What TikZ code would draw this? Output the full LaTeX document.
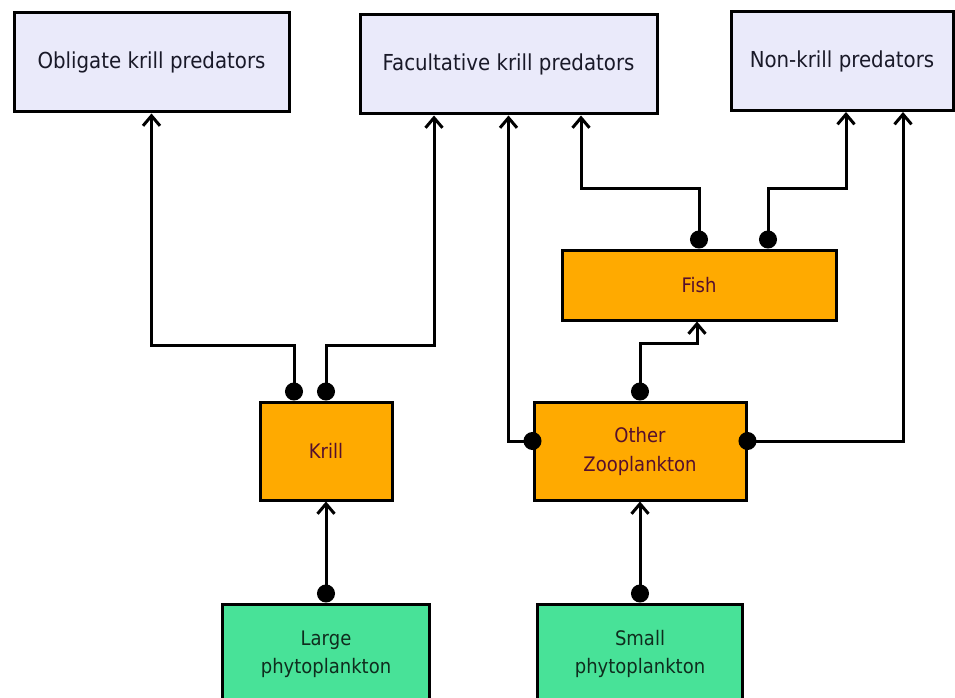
\documentclass[tikz,border=0pt]{standalone}
\usepackage{fontspec}
\usepackage{tikz}
\usetikzlibrary{arrows.meta, positioning}
\newfontfamily\webfont[FakeStretch=0.9]{DejaVu Sans}
\definecolor{predlilac}{RGB}{234, 234, 250}
\definecolor{zooorange}{RGB}{255, 170, 0}
\definecolor{phytogreen}{RGB}{72, 226, 152}
\definecolor{predtext}{RGB}{25, 25, 40}
\definecolor{zootext}{RGB}{85, 15, 45}
\definecolor{phytotext}{RGB}{15, 45, 30}

\begin{document}
\begin{tikzpicture}[x=1pt, y=-1pt,
    predator/.style={rectangle, draw=black, fill=predlilac, line width=3pt, text=predtext, minimum height=99pt, align=center, font=\webfont\fontsize{22}{27}\selectfont},
    consumer/.style={rectangle, draw=black, fill=zooorange, line width=3pt, text=zootext, minimum height=98pt, align=center, font=\webfont\fontsize{20}{29}\selectfont},
    producer/.style={rectangle, draw=black, fill=phytogreen, line width=3pt, text=phytotext, minimum height=100pt, align=center, font=\webfont\fontsize{20}{28}\selectfont},
    feed/.style={{Circle[length=18pt]}-{Straight Barb[length=10pt, width=17pt]}, line width=3pt},
    sidefeed/.style={feed, shorten <=-9pt}
]
\useasboundingbox (0,0) rectangle (955,698);
\clip (0,0) rectangle (955,698);

% Predators
\node[predator, minimum width=275pt] (obligate) at (151.5,62.5) {Obligate krill predators};
\node[predator, minimum width=297pt] (facult) at (508.5,64.5) {Facultative krill predators};
\node[predator, minimum width=222pt] (nonkrill) at (842,61) {Non-krill predators};

% Consumers
\node[consumer, minimum width=274pt, minimum height=70pt] (fish) at (699,285) {Fish};
\node[consumer, minimum width=132pt] (krill) at (326,451) {Krill};
\node[consumer, minimum width=212pt] (zoo) at (640,451) {Other\\Zooplankton};

% Producers
\node[producer, minimum width=207pt] (large) at (326,654) {Large\\phytoplankton};
\node[producer, minimum width=205pt] (small) at (640,654) {Small\\phytoplankton};

% Krill links
\draw[feed] ([xshift=-32pt]krill.north) -- ++(0,-55) -| (obligate.south);
\draw[feed] (krill.north) -- ++(0,-55) -| ([xshift=-74.5pt]facult.south);

% Fish links
\draw[feed] (fish.north) -- ++(0,-60) -| ([xshift=72.5pt]facult.south);
\draw[feed] ([xshift=69pt]fish.north) -- ++(0,-60) -| ([xshift=4pt]nonkrill.south);

% Zooplankton links
\draw[sidefeed] ([yshift=10pt]zoo.west) -| (facult.south);
\draw[sidefeed] ([yshift=10pt]zoo.east) -| ([xshift=61pt]nonkrill.south);
\draw[feed] (zoo.north) -- ++(0,-57) -| ([xshift=-2pt]fish.south);

% Phytoplankton links
\draw[feed] (large.north) -- (krill.south);
\draw[feed] (small.north) -- (zoo.south);

\end{tikzpicture}
\end{document}
